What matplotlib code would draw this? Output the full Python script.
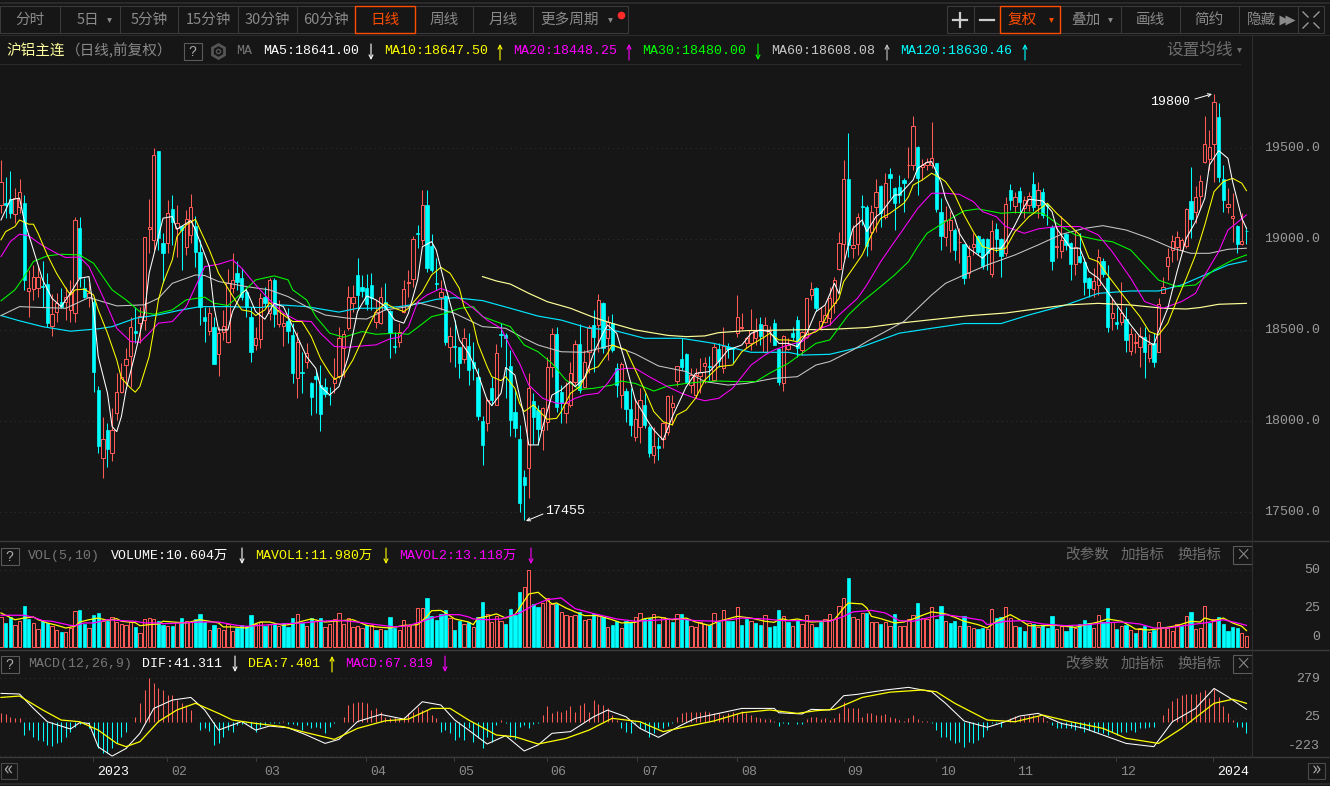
import numpy as np
import matplotlib
matplotlib.use("Agg")
import matplotlib.pyplot as plt
from matplotlib.patches import Rectangle

# candles, daily bars of the aluminium contract
opens = [
19189,19198,19220,19138,19180,19198,18716,18726,18735,18744,
18753,18526,18599,18654,18658,18612,18597,19061,18731,18685,
18658,18172,17797,17953,17825,18048,18160,18308,18359,18497,
18542,18557,19059,18997,19486,18978,18978,19165,19061,19075,
18960,19024,19074,18932,18572,18497,18520,18368,18493,18438,
18731,18813,18786,18709,18572,18420,18451,18682,18594,18777,
18533,18526,18552,18475,18240,18270,18324,18209,18249,18200,
18191,18147,18209,18249,18405,18511,18649,18804,18737,18731,
18749,18548,18539,18658,18606,18414,18438,18603,18762,18780,
19033,18996,19188,18963,18758,18685,18688,18410,18412,18406,
18342,18414,18324,18245,18002,17989,18183,18090,18481,18472,
18304,18051,17903,17696,17745,18111,18062,17952,17998,18300,
18480,18159,18047,18089,18218,18425,18190,18382,18529,18529,
18652,18456,18538,18291,18144,18166,18066,17912,17967,18089,
17970,17815,17864,17901,17943,18080,18223,18340,18368,18199,
18144,18249,18304,18304,18227,18397,18291,18406,18403,18487,
18511,18428,18428,18456,18535,18382,18498,18538,18397,18209,
18395,18487,18557,18392,18465,18694,18730,18520,18547,18566,
18648,18837,18973,19332,18951,18973,19181,19176,19042,19180,
19295,19125,19357,19280,19286,19326,19407,19408,19507,19399,
19408,19408,19418,19148,19015,19051,19051,18984,18973,18813,
18960,19020,19002,19002,18808,19057,19000,18923,19269,19185,
19266,19174,19189,19304,19189,19258,19189,19070,18960,18938,
19029,18978,18864,18908,18877,18786,18725,18749,18883,18789,
18566,18544,18544,18562,18388,18429,18407,18465,18346,18429,
18383,18703,18855,18941,18960,18941,18965,19212,19152,19238,
19423,19441,19522,19670,19330,19180,19119,19073,18973,19048]

highs = [
19436,19345,19376,19280,19330,19244,18832,18859,18859,18878,
18817,18698,18707,18731,18740,18777,19121,19121,18786,18758,
18685,18194,18026,17989,18072,18264,18319,18401,18575,18630,
18630,19015,19220,19500,19486,19033,19216,19244,19189,19079,
19161,19248,19128,18997,18630,18630,18575,18520,18612,18835,
18923,18878,18841,18740,18630,18520,18704,18740,18786,18786,
18667,18594,18625,18539,18493,18383,18429,18218,18282,18310,
18237,18191,18346,18520,18502,18744,18749,18896,18804,18810,
18817,18667,18740,18762,18612,18493,18539,18777,18832,19018,
19079,19271,19271,19029,18895,18776,18694,18516,18556,18410,
18514,18483,18437,18291,18029,18126,18245,18425,18538,18483,
18392,18172,17980,17732,18263,18154,18090,18080,18355,18511,
18516,18199,18218,18328,18447,18533,18392,18529,18611,18699,
18657,18578,18589,18318,18328,18181,18181,18126,18181,18154,
17980,17970,17915,17998,18144,18144,18304,18456,18373,18291,
18291,18346,18355,18359,18428,18428,18520,18428,18410,18694,
18593,18465,18615,18566,18571,18571,18524,18560,18401,18474,
18456,18520,18578,18498,18676,18767,18736,18626,18639,18740,
18795,19042,19436,19582,19079,19143,19244,19189,19189,19332,
19299,19363,19390,19289,19353,19335,19509,19678,19513,19441,
19445,19647,19418,19225,19185,19156,19060,19060,18973,18969,
19033,19024,19006,19006,19106,19088,19006,19234,19302,19262,
19289,19240,19262,19368,19313,19284,19198,19079,19070,19130,
19033,18984,19048,19033,18896,18795,18841,18945,18896,18859,
18676,18630,18764,18630,18511,18484,18520,18520,18478,18484,
18676,18795,18951,19024,19046,19006,19170,19396,19293,19353,
19678,19601,19800,19747,19408,19280,19253,19079,19143,19070]

lows = [
19143,19116,19116,19088,19143,18722,18575,18667,18685,18630,
18520,18466,18548,18621,18557,18548,18548,18740,18676,18630,
18163,17825,17687,17751,17779,18008,18154,18200,18191,18429,
18429,18502,18923,18942,18942,18759,18923,18969,18905,18832,
18914,18978,18850,18530,18438,18475,18315,18249,18447,18429,
18704,18722,18667,18575,18323,18392,18401,18630,18557,18520,
18520,18414,18429,18209,18127,18154,18292,18035,18044,17947,
18136,18090,18154,18237,18246,18502,18603,18612,18685,18612,
18612,18511,18533,18612,18346,18374,18410,18594,18685,18740,
18951,18969,18822,18822,18721,18611,18419,18328,18300,18236,
18318,18199,18227,18007,17760,17948,18090,18090,18410,18126,
17921,17915,17503,17455,17577,17873,17870,17842,17952,18245,
18053,17992,17989,18080,18199,18154,18181,18263,18273,18382,
18373,18337,18383,18135,18071,17998,17921,17893,17879,17961,
17806,17769,17787,17851,17925,17980,18194,18282,18209,18154,
18126,18154,18209,18227,18223,18300,18267,18346,18322,18465,
18502,18401,18392,18419,18419,18377,18437,18419,18199,18168,
18392,18447,18355,18364,18456,18666,18608,18502,18538,18529,
18593,18832,18892,18905,18896,18914,19079,18910,18941,19042,
19070,19112,19225,19051,19198,19152,19335,19381,19244,19326,
19381,19390,19152,18941,18965,18932,18886,18868,18755,18786,
18914,18914,18835,18832,18795,18932,18795,18910,19161,19143,
19152,19115,19156,19156,19115,19119,19079,18832,18896,18896,
18941,18776,18804,18868,18694,18681,18685,18694,18795,18493,
18502,18505,18529,18383,18364,18374,18300,18240,18328,18300,
18383,18703,18777,18877,18886,18923,18950,19006,19088,19170,
19418,19381,19317,19317,19152,19143,18987,18927,18969,18973]

closes = [
19317,19189,19143,19226,19258,18777,18735,18795,18795,18737,
18542,18588,18652,18630,18685,18713,19106,18786,18685,18704,
18273,17865,17901,17848,17953,18160,18242,18341,18517,18487,
18579,19011,19070,19462,19006,18927,19147,19097,19092,19052,
19110,19180,18932,18630,18553,18597,18315,18484,18526,18759,
18777,18764,18685,18630,18378,18456,18676,18649,18777,18590,
18612,18539,18497,18268,18436,18266,18374,18136,18235,18041,
18150,18143,18231,18456,18478,18685,18685,18694,18718,18645,
18676,18603,18685,18616,18484,18410,18489,18725,18768,19000,
19030,19188,18840,18831,18754,18712,18437,18469,18408,18322,
18456,18282,18295,18031,17870,18117,18117,18373,18472,18456,
18007,17961,17553,17650,18181,18025,17956,18071,18296,18480,
18080,18099,18099,18267,18425,18172,18324,18520,18465,18666,
18401,18547,18392,18199,18315,18068,17980,18011,18117,17980,
17824,17864,17851,17989,18139,18099,18304,18296,18218,18254,
18254,18273,18318,18300,18406,18333,18414,18395,18399,18571,
18520,18456,18502,18502,18469,18529,18502,18419,18218,18469,
18419,18465,18401,18492,18676,18725,18621,18553,18584,18676,
18776,18978,19332,18969,18969,19121,19178,18963,19148,19258,
19143,19308,19339,19198,19244,19311,19408,19623,19339,19408,
19423,19445,19167,19020,19106,19106,18941,18987,18786,18910,
18973,18932,18853,18923,19046,19002,18908,19192,19216,19235,
19207,19216,19238,19180,19271,19134,19185,18883,18963,18996,
18969,18864,18960,18877,18767,18731,18773,18905,18808,18520,
18597,18533,18593,18447,18480,18434,18471,18383,18423,18328,
18645,18736,18905,18991,19015,18996,19165,19112,19234,19322,
19522,19509,19753,19344,19216,19192,19128,18973,18993,19046]

ma5_idx = [0,2,4,5,7,9,11,13,15,17,19,20,21,23,24,25,26,27,29,31,32,34,35,37,38,41,42,45,46,47,49,50,52,53,55,57,59,61,63,66,68,69,71,73,75,77,79,81,83,85,87,88,
           90,91,93,94,96,98,99,101,103,105,106,108,109,111,113,114,116,117,119,121,123,124,126,128,130,131,133,135,137,140,141,143,145,148,150,153,155,157,160,162,164,166,168,170,172,174,176,178,180,181,
           182,183,184,186,187,189,190,193,194,197,198,200,201,203,204,206,207,209,211,212,214,216,217,219,221,222,225,227,228,231,233,235,237,239,242,244,246,249,250,252,254,256,258,260,261,263,265,266,268,269]
ma5_val = [19106,19216,19226,19106,18942,18777,18676,18630,18704,18786,18795,18612,18356,18154,17971,17943,18026,18172,18374,18594,18814,19015,19116,19125,19055,19103,19052,18850,18630,18502,18502,18603,18704,18722,18603,18561,18649,18630,18520,18355,18291,18191,18145,18191,18355,18603,18689,18667,18630,18557,18539,18594,
           18777,18959,18987,18941,18740,18557,18447,18373,18263,18117,18086,18154,18296,18254,18025,17870,17870,17970,18144,18172,18218,18190,18236,18373,18483,18529,18483,18309,18117,17989,17952,17897,18025,18190,18263,18273,18328,18392,18419,18483,18502,18492,18428,18428,18410,18483,18602,18639,18758,18700,
           18859,18969,19060,19106,19042,19125,19143,19244,19244,19326,19390,19423,19427,19317,19225,19115,19033,18951,18914,18896,18951,18951,18987,19079,19180,19220,19211,19152,19060,18951,18951,18822,18786,18712,18603,18529,18465,18419,18493,18621,18822,19006,19097,19225,19408,19487,19445,19317,19115,19060]

ma10_idx = [0,1,3,4,6,7,8,10,12,14,15,16,18,20,21,23,25,26,28,29,30,32,33,34,35,37,38,40,42,43,45,47,49,51,52,54,55,57,58,60,63,65,67,69,71,72,74,76,79,81,83,85,87,88,
            91,93,95,97,99,100,102,103,105,106,108,109,111,112,113,115,116,118,120,121,123,125,127,129,131,132,135,137,139,141,143,145,146,148,150,152,155,158,160,162,165,166,168,170,172,173,176,177,179,
            181,182,184,186,188,190,192,195,196,197,199,201,203,204,206,208,210,212,215,217,219,222,224,226,228,230,233,235,237,239,242,244,246,248,250,252,254,256,258,260,262,264,266,268,269]
ma10_val = [18997,19042,19070,19106,19083,19083,19033,18914,18813,18731,18694,18722,18726,18694,18612,18484,18337,18237,18182,18160,18191,18356,18502,18667,18758,18887,19015,19079,19110,19052,18942,18813,18731,18649,18612,18603,18581,18612,18652,18603,18548,18548,18466,18346,18264,18231,18255,18337,18502,18603,18649,18621,18603,18621,
            18712,18804,18846,18813,18730,18630,18538,18428,18300,18245,18223,18245,18181,18099,18053,18090,18062,18011,18016,18053,18154,18190,18282,18300,18373,18419,18392,18282,18172,18053,17998,17980,18035,18062,18126,18227,18300,18309,18382,18419,18465,18483,18447,18447,18437,18465,18492,18511,18611,
            18676,18767,18841,18914,19024,19115,19143,19198,19234,19298,19326,19363,19335,19317,19244,19134,19042,18960,18938,18951,19042,19124,19161,19198,19143,19097,19024,18896,18877,18804,18703,18639,18575,18493,18474,18538,18667,18786,18914,19079,19262,19317,19335,19308,19267]

ma20_idx = [0,2,4,6,8,10,12,14,17,19,21,23,25,28,30,32,34,37,40,42,44,47,50,52,55,58,61,64,67,69,72,75,78,81,84,86,88,
            90,92,95,97,99,102,105,108,110,112,114,117,120,122,124,126,129,131,133,135,137,140,144,147,150,152,155,158,160,162,165,167,170,173,176,179,
            181,185,187,190,192,195,198,201,204,207,210,212,215,217,221,224,228,233,237,240,244,247,251,255,258,260,263,265,269]
ma20_val = [18905,18987,19028,19019,18982,18951,18923,18900,18902,18850,18740,18630,18511,18438,18434,18484,18539,18548,18630,18740,18850,18863,18887,18841,18749,18667,18594,18553,18548,18484,18411,18407,18414,18420,18453,18462,18520,
            18657,18694,18730,18712,18676,18621,18556,18511,18410,18318,18199,18126,18099,18099,18126,18144,18154,18208,18282,18291,18291,18245,18190,18154,18126,18113,18126,18181,18245,18309,18364,18392,18419,18437,18501,18529,
            18584,18676,18749,18877,18951,19060,19170,19253,19253,19247,19207,19152,19124,19070,19033,19057,19070,19070,19024,18932,18786,18658,18621,18658,18703,18804,18932,19051,19134]

ma30_idx = [0,3,5,7,10,13,17,20,22,24,27,30,33,37,40,44,46,49,52,55,59,62,63,66,68,71,74,78,81,85,88,
            90,93,96,99,102,104,107,110,113,116,119,122,125,128,132,134,137,141,144,148,152,155,159,163,166,170,173,176,179,
            183,186,190,193,196,198,200,204,208,211,216,219,225,228,232,237,240,244,246,250,254,258,262,266,269]
ma30_val = [18662,18722,18795,18878,18909,18918,18914,18868,18795,18722,18667,18602,18588,18612,18667,18682,18649,18636,18704,18777,18799,18777,18722,18667,18575,18484,18462,18493,18478,18484,18478,
            18516,18575,18593,18620,18630,18575,18547,18520,18419,18382,18318,18227,18175,18181,18199,18221,18208,18166,18194,18208,18218,18221,18218,18218,18264,18318,18373,18428,18447,
            18584,18657,18740,18804,18877,18960,19033,19097,19156,19167,19143,19148,19143,19088,19024,18996,18987,18941,18886,18776,18740,18749,18832,18886,18914]

ma60_idx = [0,4,9,14,19,25,31,34,37,42,44,47,53,58,62,66,70,75,79,83,88,
            90,94,98,104,109,113,116,121,126,132,137,142,148,152,157,161,167,172,176,
            179,184,187,191,195,198,201,204,208,213,219,224,229,234,238,243,248,253,257,261,265,269]
ma60_val = [18581,18630,18625,18621,18680,18634,18640,18676,18758,18804,18801,18768,18740,18722,18685,18630,18584,18566,18562,18612,18630,
            18652,18626,18593,18520,18511,18456,18419,18382,18379,18419,18370,18304,18273,18218,18199,18208,18236,18245,18309,
            18328,18392,18438,18493,18548,18621,18694,18758,18804,18859,18914,18969,19027,19060,19075,19051,19006,18951,18923,18923,18945,18951]

ma120_idx = [0,4,9,15,21,24,29,34,39,43,49,56,60,66,73,77,81,86,
             90,94,98,104,110,116,121,127,132,139,147,154,162,170,173,
             179,186,194,201,208,216,222,230,237,244,250,255,260,265,269]
ma120_val = [18581,18552,18520,18495,18508,18520,18566,18585,18612,18630,18630,18625,18640,18630,18600,18621,18621,18630,
             18645,18670,18679,18663,18621,18578,18556,18511,18502,18456,18456,18428,18379,18379,18364,
             18368,18410,18484,18511,18537,18537,18584,18639,18703,18716,18716,18749,18804,18859,18881]

# long pale line only starts part way along
ma250_idx = [104,107,110,114,118,123,128,132,137,144,148,152,155,161,170,179,187,195,209,217,230,237,244,251,256,259,263,269]
ma250_val = [18795,18771,18754,18703,18657,18621,18571,18538,18502,18472,18465,18469,18487,18498,18502,18505,18515,18542,18580,18595,18639,18648,18639,18621,18617,18625,18643,18648]

volume = [
19.4,15.7,19.4,14.2,17,26.8,18.3,15.5,11.5,16.6,
15.5,13.5,11.1,9.8,9.8,12,23.5,24.2,14.8,12.2,
20.9,22.2,17,17,19.4,16.1,14.8,14.2,16.1,13.1,
9.2,18.1,18.7,18.1,17,14.4,13.7,13.7,16.1,18.7,
16.6,16.1,18.1,21.4,16.1,10.9,14.4,12.2,10.9,14.8,
10.2,12.2,14.4,13.3,20.9,14.8,16.1,13.7,14.8,15.7,
13.5,15.5,13.1,18.7,21.4,15.7,13.5,18.7,17,18.7,
12.9,14.8,18.1,22,14.8,18.7,12.9,13.5,12.2,14.2,
14.2,11.1,11.5,11.1,19.4,12.2,10.9,17.4,13.5,14.8,
25.3,25.3,31.8,20.3,17.6,21.4,24.2,18.7,11.1,17,
14.8,16.1,12.9,19.6,29.2,21.4,16.1,20,17,15,
24.8,20.9,35.7,39,50.1,27.9,26.1,28.5,31.8,27.9,
27.9,22.7,20.9,20,20.9,22.7,17.4,18.1,21.4,20.3,
19.2,12.9,14.4,17,12.2,16.6,16.1,19.4,22,18.3,
18.7,21.4,15,19.4,18.1,16.3,21.4,21.4,18.1,13.5,
12.9,16.1,14.8,14.2,22,16.1,24,16.6,16.6,25.9,
14.4,18.1,16.8,15.5,14.4,20.7,13.1,13.7,24.2,20,
16.3,13.5,17.6,14.8,20.7,14.8,12.9,16.1,18.1,21.4,
18.1,26.6,31.8,44.9,19.4,18.1,22,22,16.1,16.1,
14.8,16.1,13.5,21.4,13.5,13.5,18.1,20.7,28.5,18.7,
18.1,25.9,18.1,26.6,16.8,15.5,16.8,13.5,20,13.5,
12.2,11.8,12.2,11.5,24.6,18.7,19.4,25.9,18.7,13.5,
13.1,10.5,15.5,14.8,13.1,14.4,12.4,20,11.5,13.5,
10.5,13.5,12.2,14.8,17.4,15.7,12.2,20.7,16.1,25.5,
16.1,11.8,13.5,14.4,10.9,9.2,12.2,13.5,9.8,10.9,
16.1,12.9,12.2,10.5,14.8,13.5,20,22.7,11.5,12.2,
26.6,15.7,18.1,19.4,14.8,10.5,13.1,12.2,8.9,7]

vol_side = ("RCCRRCCRRC" "CRRCRRRCCR" "CCRCRRRRRC" "RRRRCCRCRC" "RRCCCRCRRR"
            "RCCCCRRCRC" "RCCCRCRCRC" "RRRRRRRRRC" "RCRCCCRRRR" "RRCCCCCRCC"
            "RCRCCRRRRC" "CCCRRCCRRR" "CRRRRCRRCR" "CRCCRCCRRC" "CRCRRCRCCR"
            "RRRCRCRCCR" "CCRCCRCCCR" "CRCRRRCCRR" "RRRCRRRCRR" "CRRCRRRRCR"
            "RRCCRCCRCR" "RCCRRCCRRR" "CCRCRCCCRR" "CCRCCCRRCC" "RCRCRCRCRC"
            "RRRRRCRCRR" "RCRCCCCCRR")

mavol1_idx = [0,1,3,5,7,8,10,12,14,16,17,19,21,23,25,26,29,30,32,34,35,40,42,43,45,47,48,50,53,55,56,58,61,63,65,67,70,72,76,79,81,84,87,90,92,93,95,96,98,101,
              102,103,105,107,109,111,112,114,116,117,119,120,122,124,126,129,132,134,137,139,142,145,148,150,153,155,159,162,165,167,168,
              169,170,172,175,178,180,182,183,186,187,188,190,193,195,197,199,201,204,206,208,211,213,215,218,220,222,225,228,232,235,
              237,239,242,244,245,248,251,254,257,259,260,262,264,266,268,269]
mavol1_val = [22,20.5,17.6,18.7,19.4,17.6,15.5,14,12.2,13.3,16.1,17.6,18.7,17.2,18.3,16.6,15.7,13.7,14.4,14.8,16.6,15.5,17,17.6,16.6,15.5,12.9,12.9,12.2,15,16.1,16.1,13.9,14.8,16.6,18.1,16.1,16.6,17.6,13.9,12.9,12.2,13.9,14.4,19.8,23.5,23.7,22,18.1,16.1,
              14.4,18.7,19.8,21.4,18.7,20.9,25.3,34.4,35.5,32.9,27.9,28.5,25.3,22.7,20.3,20.3,17.6,15.5,15.9,18.3,19.4,17.6,18.7,16.1,13.9,16.6,19.8,18.7,16.6,15.9,17.6,
              18.1,17.2,18.1,16.1,16.6,17.6,25.3,28.5,27.9,25.3,19.8,18.3,15.5,16.1,18.1,20.5,22.7,21.4,19.2,16.6,14.4,12.2,16.6,20.9,17.6,13.7,13.7,13.9,12.6,14.8,
              16.1,18.1,16.6,13.4,11.5,10.9,12.2,13.7,16.6,16.1,18.7,17,18.7,15.5,13.3,10.5]

mavol2_idx = [0,3,5,7,9,11,15,16,18,20,23,26,29,31,34,35,39,43,47,51,53,56,60,65,69,73,77,80,85,88,91,93,96,99,101,
              102,105,108,112,115,118,121,124,128,133,137,141,146,150,155,160,165,168,
              169,173,179,182,184,188,191,194,197,201,204,208,212,213,217,221,225,230,235,238,242,246,249,252,257,260,264,267,269]
mavol2_val = [20.5,20.5,20.5,19.2,17,16.6,13.9,13.7,15.5,15.5,17.6,17,16.6,15.5,15.5,15,15.5,16.1,16.1,13.9,13.3,13.9,14.8,15.5,16.6,17.2,16.1,14.8,12.9,13.7,16.6,18.7,20.9,20.9,19.4,
              18.1,17.6,18.1,22,27,30.7,31.8,24.8,21.6,18.1,16.6,17.2,18.3,17,16.6,18.7,18.1,17.2,
              17,17,16.6,19.8,22.7,23.7,22,17,16.6,19.4,20.9,19.2,17.2,14.4,16.6,17,14.8,13.7,14.4,15.5,16.1,14.8,12.2,12.2,14.4,15.5,17.6,15.5,13.9]

macd_bar = [
53,48,31,25,21,-87,-55,-98,-119,-126,
-152,-156,-141,-130,-98,-65,-33,-16,-16,-44,
-98,-173,-205,-205,-173,-141,-98,-65,0,31,
118,204,279,247,215,204,171,171,139,122,
107,75,0,-55,-44,-59,-152,-141,-98,-55,
-65,-22,-16,-12,-44,-65,-33,-22,-7,-7,
-7,3,-16,-16,-22,-55,-22,-44,-33,-44,
-72,-37,-7,0,31,107,122,128,128,118,
75,85,64,31,21,27,16,31,53,64,
96,75,75,42,21,-65,-55,-76,-119,-98,
-119,-44,-130,-109,-173,-98,-130,-22,10,-7,
-98,-115,-33,-22,-44,-16,-7,42,100,53,
68,64,75,102,64,107,118,64,139,113,
107,85,42,10,-44,-65,-76,-10,-44,-55,
-98,-76,-44,-44,-29,-7,31,57,59,59,
59,64,68,59,53,53,42,53,64,53,
70,53,42,31,21,16,16,3,-29,-7,
-18,-1,-16,-16,14,27,27,14,21,10,
21,53,128,85,85,85,27,57,53,42,
42,49,31,21,10,6,21,42,16,1,
1,-7,-55,-98,-98,-119,-141,-130,-162,-130,
-141,-119,-98,-55,-12,-7,-33,0,21,38,
31,38,42,42,38,31,3,-22,-44,-44,
-44,-44,-55,-44,-65,-55,-65,-65,-76,-87,
-65,-87,-65,-65,-55,-65,-44,-44,-33,-33,
-1,42,85,133,150,171,178,178,178,193,
204,150,210,161,102,53,10,-33,-37,-72]

dif_idx = [0,4,7,10,15,17,19,21,24,27,30,33,37,41,44,47,52,55,58,62,66,70,73,77,82,87,91,95,98,101,105,109,113,116,119,123,128,131,135,
           138,142,147,150,155,160,167,168,173,175,179,182,185,187,191,196,201,204,208,213,217,220,224,229,234,239,243,249,253,258,262,265,269]
dif_val = [182,178,85,-1,-48,-7,-12,-163,-223,-174,-76,85,139,156,75,-55,0,-55,-29,-40,-87,-141,-115,0,46,16,128,107,10,-55,-145,-91,-190,-151,-76,-65,31,74,31,
           -44,-102,-22,21,53,85,85,57,49,79,75,167,176,186,204,221,193,118,4,-37,0,36,53,-12,-44,-98,-141,-162,-1,85,214,160,79]

dea_idx = [0,4,9,13,17,21,25,27,30,34,38,42,47,50,55,61,66,72,77,83,88,93,97,101,107,111,116,122,127,132,
           138,143,148,154,160,166,172,176,180,186,192,199,202,206,213,219,225,231,238,243,250,255,262,266,269]
dea_val = [156,165,75,10,-1,-55,-141,-162,-130,0,75,118,53,10,-12,-33,-72,-115,-44,5,16,85,85,10,-87,-98,-145,-109,-55,21,
           -1,-65,-33,4,57,75,53,70,79,156,190,204,193,118,10,-1,42,-1,-44,-108,-141,-44,118,144,118]

month_labels = ["2023","02","03","04","05","06","07","08","09","10","11","12","2024"]
month_label_x = [113,179,272,378,466,558,650,749,855,948,1025,1128,1233]
month_tick_x = [93,167,256,366,454,547,637,737,844,936,1014,1116,1213]
price_ticks = [19500,19000,18500,18000,17500]
vol_ticks = [50,25]
macd_ticks = [279,25,-223]

BG = "#161616"
RED = "#ff5a55"
CYAN = "#00ffff"
YEL = "#ffff00"
MAG = "#ff00ff"
GRN = "#00ff00"
GRAY = "#c8c8c8"
PALE = "#ffff99"
TXT = "#8a8a8a"
ORANGE = "#ff4d00"
LINE = "#3a3a3a"
MONO = ["Liberation Mono", "Noto Sans CJK SC"]
CJK = ["Noto Sans CJK SC", "DejaVu Sans"]

W, H = 1330, 786
plt.rcParams["font.family"] = CJK
fig = plt.figure(figsize=(W / 100, H / 100), dpi=100, facecolor=BG)


def panel(top, bottom):
    ax = fig.add_axes([0, 1 - bottom / H, 1252 / W, (bottom - top) / H], facecolor=BG)
    # one bar every 4.63 px, first one at x = 1
    ax.set_xlim(-1 / 4.63, (1252 - 1) / 4.63)
    ax.set_xticks([])
    ax.set_yticks([])
    for s in ax.spines.values():
        s.set_visible(False)
    return ax


def grid(ax, values):
    for v in values:
        ax.axhline(v, color="#333333", lw=0.7, ls=(0, (1, 4)), zorder=1)


xs = np.arange(len(closes))
opens = np.array(opens)
closes = np.array(closes)
highs = np.array(highs)
lows = np.array(lows)
up = closes >= opens

# --- main price pane
ax = panel(70, 540)
ax.set_ylim(19500 - (540 - 148.3) * 5.495, 19500 + (148.3 - 70) * 5.495)
grid(ax, price_ticks)
ax.vlines(xs[up], lows[up], highs[up], color=RED, lw=0.75, zorder=2)
ax.vlines(xs[~up], lows[~up], highs[~up], color=CYAN, lw=0.75, zorder=2)
body_w = 3.3 / 4.63
ax.bar(xs[up], (closes - opens)[up], bottom=opens[up], width=body_w, facecolor=BG, edgecolor=RED, lw=0.72, zorder=3)
ax.bar(xs[~up], (opens - closes)[~up], bottom=closes[~up], width=body_w, facecolor=CYAN, edgecolor=CYAN, lw=0.5, zorder=3)

ax.plot(ma120_idx, ma120_val, color="#00e5ff", lw=0.85, zorder=4)
ax.plot(ma250_idx, ma250_val, color=PALE, lw=0.85, zorder=4)
ax.plot(ma60_idx, ma60_val, color=GRAY, lw=0.75, zorder=4)
ax.plot(ma30_idx, ma30_val, color=GRN, lw=0.75, zorder=4)
ax.plot(ma20_idx, ma20_val, color=MAG, lw=0.75, zorder=5)
ax.plot(ma10_idx, ma10_val, color=YEL, lw=0.75, zorder=5)
ax.plot(ma5_idx, ma5_val, color="white", lw=0.75, zorder=6)

# --- volume pane
ax2 = panel(565, 648)
ax2.set_ylim(-0.85, 53.3)
grid(ax2, vol_ticks)
vol = np.array(volume)
vol_up = np.array([c == "R" for c in vol_side])
ax2.bar(xs[vol_up], vol[vol_up], width=body_w, facecolor=BG, edgecolor=RED, lw=0.72, zorder=2)
ax2.bar(xs[~vol_up], vol[~vol_up], width=body_w, facecolor=CYAN, edgecolor=CYAN, lw=0.5, zorder=2)
ax2.plot(mavol1_idx, mavol1_val, color=YEL, lw=0.9, zorder=3)
ax2.plot(mavol2_idx, mavol2_val, color=MAG, lw=0.9, zorder=3)

# --- macd pane
ax3 = panel(651, 757)
ax3.set_ylim(25 - (757 - 717.7) * 6.46, 25 + (717.7 - 651) * 6.46)
grid(ax3, macd_ticks)
bars = np.array(macd_bar)
ax3.vlines(xs[bars >= 0], 0, bars[bars >= 0], color=RED, lw=0.75, zorder=2)
ax3.vlines(xs[bars < 0], 0, bars[bars < 0], color=CYAN, lw=0.75, zorder=2)
ax3.plot(dif_idx, dif_val, color="white", lw=0.75, zorder=3)
ax3.plot(dea_idx, dea_val, color=YEL, lw=0.9, zorder=3)

# --- everything around the panes, in pixel coordinates
ui = fig.add_axes([0, 0, 1, 1], facecolor="none", zorder=10)
ui.set_xlim(0, W)
ui.set_ylim(H, 0)
ui.axis("off")


def hline(y, x0=0, x1=W, color=LINE, lw=0.8):
    ui.plot([x0, x1], [y, y], color=color, lw=lw)


def vline(x, y0, y1, color=LINE, lw=0.8):
    ui.plot([x, x], [y0, y1], color=color, lw=lw)


def label(x, y, s, color=TXT, size=10.5, ha="center", family=CJK):
    ui.text(x, y, s, color=color, fontsize=size, ha=ha, va="center", family=family)


def mono(x, y, s, color):
    label(x, y, s, color, size=9.5, ha="left", family=MONO)


def updown(x, y, color, going_up):
    tail, tip = (y + 8, y - 8) if going_up else (y - 8, y + 8)
    ui.annotate("", xy=(x, tip), xytext=(x, tail),
                arrowprops=dict(arrowstyle="->", color=color, lw=0.8, mutation_scale=7, shrinkA=0, shrinkB=0))


def tri(x, y, color=TXT):
    ui.plot([x], [y], marker="v", ms=3.5, color=color, mec="none")


def helpbox(x0, y0):
    ui.add_patch(Rectangle((x0, y0), 18, 17, fill=False, ec="#5a5a5a", lw=0.8))
    label(x0 + 9, y0 + 9, "?", "#aaaaaa", size=10, family=MONO)


hline(3, color="#2a2a2a", lw=1.5)
hline(35, color="#2a2a2a")
hline(64, 0, 1240, "#2a2a2a")
hline(541, color=LINE, lw=1.0)
hline(650, color=LINE, lw=1.0)
hline(757, color=LINE, lw=1.0)
vline(1252, 35, 757, "#2e2e2e")
hline(784, color="#2a2a2a", lw=1.5)

# left toolbar
ui.add_patch(Rectangle((0, 6), 628, 27, fill=False, ec=LINE, lw=0.8))
for x in [60, 120, 178, 238, 297, 473, 533]:
    vline(x, 6, 33)
tabs = [("分时", 30), ("5日", 88), ("5分钟", 149), ("15分钟", 208), ("30分钟", 267), ("60分钟", 326),
        ("周线", 444), ("月线", 503), ("更多周期", 570)]
for name, x in tabs:
    label(x, 20, name)
label(385, 20, "日线", ORANGE)
ui.add_patch(Rectangle((355, 6), 60, 27, fill=False, ec=ORANGE, lw=1.0))
tri(109, 20)
tri(610, 20)
ui.plot([621], [15], marker="o", ms=5.5, color="#ff2a2a", mec="none")

# right toolbar
ui.add_patch(Rectangle((947, 6), 377, 27, fill=False, ec=LINE, lw=0.8))
for x in [974, 1121, 1180, 1239, 1298]:
    vline(x, 6, 33)
ui.add_patch(Rectangle((1000, 6), 60, 27, fill=False, ec=ORANGE, lw=1.0))
ui.plot([953, 967], [20, 20], color="#cccccc", lw=1.6)
ui.plot([960, 960], [13, 27], color="#cccccc", lw=1.6)
ui.plot([980, 994], [20, 20], color="#cccccc", lw=1.6)
label(1022, 20, "复权", ORANGE)
tri(1051, 20, ORANGE)
label(1086, 20, "叠加")
tri(1110, 20)
label(1150, 20, "画线")
label(1209, 20, "简约")
label(1261, 20, "隐藏")
ui.plot([1284, 1290], [20, 20], ls="none", marker=">", ms=7, color=TXT, mec="none")
for sx, sy in [(-1, -1), (1, -1), (-1, 1), (1, 1)]:
    ui.plot([1311 + sx * 3, 1311 + sx * 8], [20 + sy * 3, 20 + sy * 8], color="#999999", lw=1.0)

# title row
label(6, 51, "沪铝主连", "#ffffa0", size=10.5, ha="left")
label(66, 51, "（日线,前复权）", TXT, size=10.5, ha="left")
helpbox(184, 43)
ui.plot([218], [51], marker="h", ms=10, mfc="none", mec="#555555", mew=2)
ui.plot([218], [51], marker="o", ms=3, mfc="none", mec="#555555", mew=1)
mono(236, 51, "MA", "#777777")
ma_row = [(263, "MA5:18641.00", "white", 371, False), (384, "MA10:18647.50", YEL, 500, True),
          (513, "MA20:18448.25", MAG, 629, True), (642, "MA30:18480.00", GRN, 758, False),
          (771, "MA60:18608.08", GRAY, 887, True), (900, "MA120:18630.46", CYAN, 1025, True)]
for x, s, c, ax_x, going_up in ma_row:
    mono(x, 51, s, c)
    updown(ax_x, 52, c, going_up)
label(1200, 50, "设置均线", "#6e6e6e", size=12)
tri(1239, 50, "#6e6e6e")

# volume header
helpbox(1, 548)
mono(28, 556, "VOL(5,10)", "#777777")
mono(111, 556, "VOLUME:10.604万", "white")
updown(242, 556, "white", False)
mono(255, 556, "MAVOL1:11.980万", YEL)
updown(386, 556, YEL, False)
mono(399, 556, "MAVOL2:13.118万", MAG)
updown(531, 556, MAG, False)

# macd header
helpbox(1, 656)
mono(28, 664, "MACD(12,26,9)", "#777777")
mono(142, 664, "DIF:41.311", "white")
updown(235, 664, "white", False)
mono(248, 664, "DEA:7.401", YEL)
updown(332, 664, YEL, True)
mono(345, 664, "MACD:67.819", MAG)
updown(445, 664, MAG, False)

for y in [555, 664]:
    label(1087, y, "改参数", "#6e6e6e")
    label(1143, y, "加指标", "#6e6e6e")
    label(1199, y, "换指标", "#6e6e6e")
    ui.add_patch(Rectangle((1233, y - 9), 19, 18, fill=False, ec="#5a5a5a", lw=0.8))
    label(1242.5, y, "×", "#8a8a8a", size=11)

# axis numbers on the right
price_y = [148, 239, 330, 421, 512]
for v, y in zip(price_ticks, price_y):
    label(1320, y, "%.1f" % v, "#9a9a9a", size=9.5, ha="right", family=MONO)
for s, y in [("50", 570), ("25", 608), ("0", 637)]:
    label(1320, y, s, "#9a9a9a", size=9.5, ha="right", family=MONO)
for s, y in [("279", 679), ("25", 717), ("-223", 746)]:
    label(1320, y, s, "#9a9a9a", size=9.5, ha="right", family=MONO)

# date axis
for s, x in zip(month_labels, month_label_x):
    label(x, 772, s, "white" if len(s) == 4 else "#8a8a8a", size=9.5, family=MONO)
for x in month_tick_x:
    vline(x, 757, 761)
ui.add_patch(Rectangle((1, 763), 16, 16, fill=False, ec="#4a4a4a", lw=0.8))
label(9, 770, "«", "#aaaaaa", size=14)
ui.add_patch(Rectangle((1308, 763), 17, 16, fill=False, ec="#4a4a4a", lw=0.8))
label(1316, 770, "»", "#aaaaaa", size=14)

# high / low markers
label(545, 511, "17455", "white", size=9.5, ha="left", family=MONO)
ui.annotate("", xy=(526, 521), xytext=(543, 514),
            arrowprops=dict(arrowstyle="->", color="white", lw=0.7, mutation_scale=6, shrinkA=0, shrinkB=0))
label(1150, 102, "19800", "white", size=9.5, ha="left", family=MONO)
ui.annotate("", xy=(1212, 94), xytext=(1195, 99),
            arrowprops=dict(arrowstyle="->", color="white", lw=0.7, mutation_scale=6, shrinkA=0, shrinkB=0))

fig.savefig("out.png", dpi=100, facecolor=BG)
